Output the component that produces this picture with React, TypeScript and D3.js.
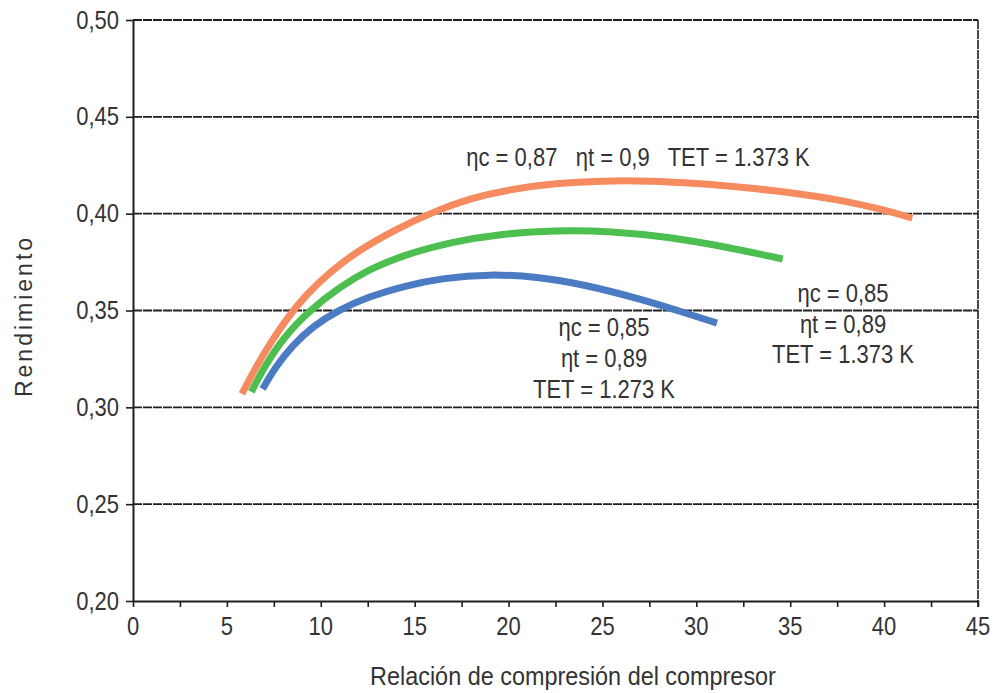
import React, { useRef, useEffect } from 'react';
import * as d3 from 'd3';

// Relación de compresión vs rendimiento
const orangeCurve: [number, number][] = [
  [5.8, 0.307], [6.5, 0.320], [7.3, 0.333], [8.2, 0.346], [9.2, 0.358],
  [10.5, 0.370], [12, 0.381], [14, 0.392], [16, 0.401], [18, 0.408],
  [20, 0.4125], [22.5, 0.4158], [25, 0.417], [27.5, 0.417], [30, 0.4157],
  [32.5, 0.4136], [35, 0.411], [37.5, 0.4074], [40, 0.402], [41.5, 0.3977]
];
const greenCurve: [number, number][] = [
  [6.3, 0.308], [7, 0.321], [8, 0.336], [9.4, 0.350], [11, 0.362],
  [12.5, 0.371], [14.5, 0.379], [17, 0.3855], [19.5, 0.3895], [22.5, 0.3915],
  [25.5, 0.391], [28.5, 0.388], [31.5, 0.383], [34.6, 0.3766]
];
const blueCurve: [number, number][] = [
  [6.9, 0.3095], [7.6, 0.321], [8.5, 0.332], [9.6, 0.342], [10.9, 0.350],
  [12.5, 0.357], [14.5, 0.3628], [16.5, 0.3668], [19, 0.3688], [21.5, 0.3675],
  [24, 0.3635], [27, 0.356], [29, 0.350], [31.1, 0.3435]
];

const yTicks = [0.20, 0.25, 0.30, 0.35, 0.40, 0.45, 0.50];
const xTicks = [0, 5, 10, 15, 20, 25, 30, 35, 40, 45];
const xMinorTicks = d3.range(0, 45.01, 2.5);

const topLabel = 'ηc = 0,87   ηt = 0,9   TET = 1.373 K';
const blueLabel = ['ηc = 0,85', 'ηt = 0,89', 'TET = 1.273 K'];
const greenLabel = ['ηc = 0,85', 'ηt = 0,89', 'TET = 1.373 K'];

const width = 996;
const height = 693;
const font = '"Liberation Sans", Arial, sans-serif';
const ink = '#1e1e1e';

// squeeze text horizontally so it looks like the condensed print face
function condense(sel: d3.Selection<any, any, any, any>, factor: number) {
  sel.each(function (this: SVGTextElement) {
    const w = this.getComputedTextLength();
    d3.select(this)
      .attr('textLength', w * factor)
      .attr('lengthAdjust', 'spacingAndGlyphs');
  });
}

const App = () => {
  const ref = useRef<SVGSVGElement>(null);

  useEffect(() => {
    document.body.style.margin = '0';
    const svg = d3.select(ref.current);
    svg.selectAll('*').remove();

    const x = d3.scaleLinear().domain([0, 45]).range([133, 978]);
    const y = d3.scaleLinear().domain([0.20, 0.50]).range([601, 20]);

    svg.append('rect').attr('width', width).attr('height', height).attr('fill', '#fff');

    // Grid lines
    svg.append('g')
      .selectAll('line')
      .data(yTicks.slice(1))
      .join('line')
      .attr('x1', x(0))
      .attr('x2', x(45))
      .attr('y1', d => y(d))
      .attr('y2', d => y(d))
      .attr('stroke', ink)
      .attr('stroke-width', 1.8)
      .attr('stroke-dasharray', '9 1');

    // Y axis
    const yAxis = svg.append('g')
      .attr('transform', `translate(${x(0)},0)`)
      .call(d3.axisLeft(y).tickValues(yTicks).tickSize(7).tickSizeOuter(0).tickPadding(7)
        .tickFormat(d => d3.format('.2f')(d as number).replace('.', ',')));
    yAxis.select('.domain').attr('stroke', ink).attr('stroke-width', 2);
    yAxis.selectAll('.tick line').attr('stroke', ink).attr('stroke-width', 1.6);
    const yLabels = yAxis.selectAll('text')
      .style('font-family', font)
      .style('font-size', '25px')
      .attr('fill', '#333');
    condense(yLabels, 0.88);

    // X axis
    const xAxis = svg.append('g')
      .attr('transform', `translate(0,${y(0.20)})`)
      .call(d3.axisBottom(x).tickValues(xMinorTicks).tickSize(6).tickSizeOuter(0).tickFormat(() => ''));
    xAxis.select('.domain').attr('stroke', ink).attr('stroke-width', 2);
    xAxis.selectAll('.tick line').attr('stroke', ink).attr('stroke-width', 1.6);

    const xLabels = svg.append('g')
      .selectAll('text')
      .data(xTicks)
      .join('text')
      .attr('x', d => x(d))
      .attr('y', y(0.20) + 34)
      .attr('text-anchor', 'middle')
      .style('font-family', font)
      .style('font-size', '25px')
      .attr('fill', '#333')
      .text(d => d);
    condense(xLabels, 0.88);

    // Right border
    svg.append('line')
      .attr('x1', x(45)).attr('x2', x(45))
      .attr('y1', y(0.50)).attr('y2', y(0.20) + 6)
      .attr('stroke', ink)
      .attr('stroke-width', 1.6)
      .attr('stroke-dasharray', '9 1');

    // Curves
    const line = d3.line<[number, number]>()
      .x(d => x(d[0]))
      .y(d => y(d[1]))
      .curve(d3.curveBasis);

    const series = [
      { data: orangeCurve, color: '#f58b5e' },
      { data: greenCurve, color: '#4cbf50' },
      { data: blueCurve, color: '#4b7bc2' }
    ];
    svg.append('g')
      .selectAll('path')
      .data(series)
      .join('path')
      .attr('d', d => line(d.data))
      .attr('fill', 'none')
      .attr('stroke', d => d.color)
      .attr('stroke-width', 7)
      .attr('stroke-linecap', 'butt');

    // Curve labels
    const top = svg.append('text')
      .attr('x', 638)
      .attr('y', 166)
      .attr('text-anchor', 'middle')
      .style('white-space', 'pre')
      .style('font-family', font)
      .style('font-size', '25px')
      .attr('fill', '#333')
      .text(topLabel);
    condense(top, 0.88);

    const multiLabel = (lines: string[], cx: number, y0: number, dy: number) => {
      const t = svg.append('g')
        .selectAll('text')
        .data(lines)
        .join('text')
        .attr('x', cx)
        .attr('y', (_, i) => y0 + i * dy)
        .attr('text-anchor', 'middle')
        .style('font-family', font)
        .style('font-size', '25px')
        .attr('fill', '#333')
        .text(d => d);
      condense(t, 0.88);
    };
    multiLabel(blueLabel, 604, 336, 31);
    multiLabel(greenLabel, 843, 302, 30.5);

    // Axis titles
    const xt = svg.append('text')
      .attr('x', 573)
      .attr('y', 685)
      .attr('text-anchor', 'middle')
      .style('font-family', font)
      .style('font-size', '26px')
      .attr('fill', '#333')
      .text('Relación de compresión del compresor');
    condense(xt, 0.9);

    svg.append('text')
      .attr('transform', 'translate(32,316) rotate(-90)')
      .attr('text-anchor', 'middle')
      .style('font-family', font)
      .style('font-size', '23px')
      .style('letter-spacing', '3px')
      .attr('fill', '#333')
      .text('Rendimiento');
  }, []);

  return (
    <svg
      ref={ref}
      width={width}
      height={height}
      style={{ display: 'block', position: 'absolute', left: 0, top: 0 }}
    />
  );
};

export default App;
